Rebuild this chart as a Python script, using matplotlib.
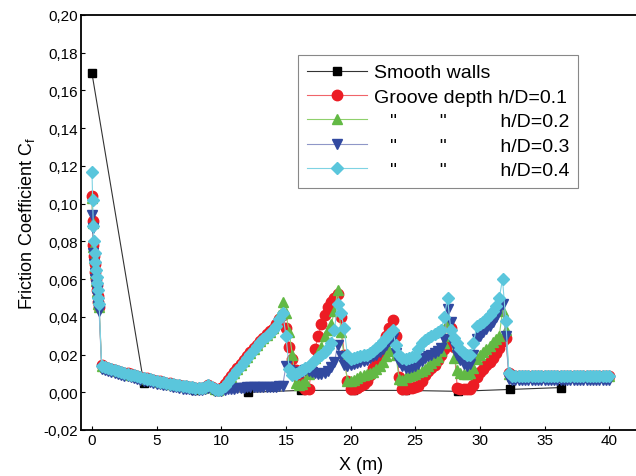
# -*- coding: UTF-8 -*-

"""Friction coefficient along the pipe, smooth walls vs grooved walls
"""

#+++++++++++++++++++++++++++++++++++++++++++++++++++++++++++++++++++++++++++++#

import numpy as np
import matplotlib.pyplot as plt

#+++++++++++++++++++++++++++++++++++++++++++++++++++++++++++++++++++++++++++++#

# smooth walls (coarse mesh)
X_SMOOTH = [ 0.0, 4.0, 8.0, 12.1, 16.2, 20.2, 24.2, 28.3, 32.3, 36.3 ]
CF_SMOOTH = [ 0.169, 0.005, 0.001, 0.0, 0.001, 0.001, 0.001, 0.0005, 0.0015, 0.0025 ]

# grooved walls: refined cells at the inlet, then 0.25 m spacing
X_INLET = [ 0.0, 0.05, 0.1, 0.15, 0.2, 0.25, 0.3, 0.35, 0.4, 0.45, 0.5, 0.55 ]
X_MAIN = np.arange( 0.75, 40.01, 0.25 )

CF_01 = [ 0.104, 0.091, 0.078, 0.072, 0.068, 0.064, 0.060, 0.057, 0.054, 0.051, 0.048, 0.045,
          0.0142,
          0.0134, 0.0128, 0.0123, 0.0118, 0.0113, 0.0108, 0.0104, 0.0100,   # 1
          0.0095, 0.0091, 0.0086, 0.0082, 0.0078, 0.0074, 0.0070, 0.0066,   # 3
          0.0062, 0.0058, 0.0054, 0.0051, 0.0047, 0.0044, 0.0041, 0.0038,   # 5
          0.0035, 0.0032, 0.0029, 0.0027, 0.0025, 0.0023, 0.0023, 0.0029,   # 7
          0.0036, 0.0030, 0.0015, 0.0014, 0.0025, 0.0042, 0.0064, 0.0086,   # 9
          0.0107, 0.0129, 0.0151, 0.0172, 0.0193, 0.0214, 0.0234, 0.0253,   # 11
          0.0272, 0.0290, 0.0307, 0.0323, 0.0338, 0.0360, 0.0390, 0.0410,   # 13
          0.0340, 0.0240, 0.0175, 0.0120, 0.0070, 0.0035, 0.0020, 0.0015,   # 15
          0.0120, 0.0230, 0.0300, 0.0360, 0.0410, 0.0450, 0.0480, 0.0500,   # 17
          0.0520, 0.0400, 0.0200, 0.0060, 0.0015, 0.0015, 0.0025, 0.0035,   # 19
          0.0045, 0.0060, 0.0090, 0.0130, 0.0178, 0.0215, 0.0250, 0.0300,   # 21
          0.0340, 0.0385, 0.0300, 0.0080, 0.0020, 0.0020, 0.0025, 0.0025,   # 23
          0.0030, 0.0035, 0.0060, 0.0090, 0.0114, 0.0130, 0.0146, 0.0170,   # 25
          0.0200, 0.0230, 0.0280, 0.0340, 0.0240, 0.0025, 0.0015, 0.0015,   # 27
          0.0015, 0.0020, 0.0040, 0.0080, 0.0106, 0.0125, 0.0145, 0.0160,   # 29
          0.0180, 0.0210, 0.0235, 0.0270, 0.0290, 0.0100, 0.0090, 0.0088,   # 31
          0.0088, 0.0088, 0.0088, 0.0088, 0.0088, 0.0088, 0.0088, 0.0088,   # 33
          0.0088, 0.0088, 0.0088, 0.0088, 0.0088, 0.0088, 0.0088, 0.0088,   # 35
          0.0088, 0.0088, 0.0088, 0.0088, 0.0088, 0.0088, 0.0088, 0.0088,   # 37
          0.0088, 0.0088, 0.0088, 0.0088, 0.0088 ]                          # 39

CF_02 = [ 0.103, 0.090, 0.077, 0.071, 0.067, 0.063, 0.059, 0.056, 0.053, 0.050, 0.047, 0.045,
          0.0141,
          0.0133, 0.0127, 0.0122, 0.0117, 0.0112, 0.0107, 0.0103, 0.0099,   # 1
          0.0094, 0.0090, 0.0085, 0.0081, 0.0077, 0.0073, 0.0069, 0.0065,   # 3
          0.0061, 0.0057, 0.0053, 0.0050, 0.0046, 0.0043, 0.0040, 0.0037,   # 5
          0.0034, 0.0031, 0.0028, 0.0026, 0.0024, 0.0022, 0.0022, 0.0028,   # 7
          0.0036, 0.0030, 0.0015, 0.0013, 0.0022, 0.0038, 0.0058, 0.0080,   # 9
          0.0100, 0.0122, 0.0145, 0.0167, 0.0188, 0.0209, 0.0230, 0.0250,   # 11
          0.0270, 0.0288, 0.0305, 0.0322, 0.0340, 0.0365, 0.0410, 0.0480,   # 13
          0.0420, 0.0320, 0.0197, 0.0050, 0.0040, 0.0045, 0.0060, 0.0095,   # 15
          0.0138, 0.0180, 0.0210, 0.0240, 0.0300, 0.0330, 0.0360, 0.0430,   # 17
          0.0540, 0.0320, 0.0190, 0.0060, 0.0060, 0.0065, 0.0075, 0.0085,   # 19
          0.0090, 0.0095, 0.0100, 0.0110, 0.0125, 0.0140, 0.0160, 0.0190,   # 21
          0.0220, 0.0290, 0.0200, 0.0070, 0.0065, 0.0080, 0.0085, 0.0090,   # 23
          0.0095, 0.0105, 0.0115, 0.0126, 0.0140, 0.0155, 0.0170, 0.0185,   # 25
          0.0220, 0.0260, 0.0380, 0.0300, 0.0180, 0.0120, 0.0100, 0.0095,   # 27
          0.0095, 0.0100, 0.0130, 0.0175, 0.0197, 0.0215, 0.0230, 0.0245,   # 29
          0.0265, 0.0285, 0.0300, 0.0430, 0.0330, 0.0095, 0.0085, 0.0085,   # 31
          0.0085, 0.0085, 0.0085, 0.0085, 0.0085, 0.0085, 0.0085, 0.0085,   # 33
          0.0085, 0.0085, 0.0085, 0.0085, 0.0085, 0.0085, 0.0085, 0.0085,   # 35
          0.0085, 0.0085, 0.0085, 0.0085, 0.0085, 0.0085, 0.0085, 0.0085,   # 37
          0.0085, 0.0085, 0.0085, 0.0085, 0.0085 ]                          # 39

CF_03 = [ 0.094, 0.087, 0.074, 0.068, 0.063, 0.060, 0.057, 0.054, 0.051, 0.048, 0.046, 0.043,
          0.0125,
          0.0118, 0.0112, 0.0107, 0.0102, 0.0097, 0.0092, 0.0088, 0.0084,   # 1
          0.0079, 0.0075, 0.0070, 0.0066, 0.0062, 0.0058, 0.0054, 0.0050,   # 3
          0.0046, 0.0043, 0.0039, 0.0036, 0.0032, 0.0029, 0.0026, 0.0023,   # 5
          0.0020, 0.0018, 0.0015, 0.0013, 0.0011, 0.0010, 0.0011, 0.0015,   # 7
          0.0022, 0.0018, 0.0006, 0.0005, 0.0008, 0.0012, 0.0015, 0.0018,   # 9
          0.0020, 0.0022, 0.0024, 0.0025, 0.0026, 0.0027, 0.0027, 0.0027,   # 11
          0.0027, 0.0027, 0.0027, 0.0027, 0.0028, 0.0030, 0.0032, 0.0035,   # 13
          0.0140, 0.0120, 0.0110, 0.0100, 0.0105, 0.0110, 0.0120, 0.0115,   # 15
          0.0110, 0.0100, 0.0095, 0.0095, 0.0100, 0.0115, 0.0135, 0.0160,   # 17
          0.0250, 0.0190, 0.0145, 0.0140, 0.0145, 0.0150, 0.0155, 0.0160,   # 19
          0.0165, 0.0170, 0.0180, 0.0190, 0.0200, 0.0215, 0.0230, 0.0250,   # 21
          0.0270, 0.0290, 0.0210, 0.0160, 0.0140, 0.0130, 0.0130, 0.0135,   # 23
          0.0140, 0.0150, 0.0165, 0.0180, 0.0190, 0.0200, 0.0210, 0.0220,   # 25
          0.0235, 0.0280, 0.0440, 0.0370, 0.0250, 0.0200, 0.0170, 0.0150,   # 27
          0.0140, 0.0150, 0.0200, 0.0280, 0.0300, 0.0320, 0.0335, 0.0350,   # 29
          0.0370, 0.0400, 0.0440, 0.0470, 0.0300, 0.0068, 0.0064, 0.0063,   # 31
          0.0063, 0.0063, 0.0063, 0.0063, 0.0063, 0.0063, 0.0063, 0.0063,   # 33
          0.0063, 0.0063, 0.0063, 0.0063, 0.0063, 0.0063, 0.0063, 0.0063,   # 35
          0.0063, 0.0063, 0.0063, 0.0063, 0.0063, 0.0063, 0.0063, 0.0063,   # 37
          0.0063, 0.0063, 0.0063, 0.0063, 0.0063 ]                          # 39

CF_04 = [ 0.117, 0.102, 0.088, 0.080, 0.074, 0.069, 0.065, 0.061, 0.058, 0.054, 0.050, 0.047,
          0.0140,
          0.0133, 0.0127, 0.0122, 0.0117, 0.0112, 0.0107, 0.0103, 0.0099,   # 1
          0.0094, 0.0090, 0.0085, 0.0081, 0.0077, 0.0073, 0.0069, 0.0065,   # 3
          0.0061, 0.0057, 0.0053, 0.0050, 0.0046, 0.0043, 0.0040, 0.0037,   # 5
          0.0034, 0.0031, 0.0028, 0.0026, 0.0024, 0.0022, 0.0022, 0.0028,   # 7
          0.0036, 0.0030, 0.0015, 0.0012, 0.0020, 0.0035, 0.0055, 0.0075,   # 9
          0.0095, 0.0118, 0.0140, 0.0162, 0.0183, 0.0204, 0.0225, 0.0245,   # 11
          0.0264, 0.0282, 0.0299, 0.0315, 0.0330, 0.0350, 0.0390, 0.0420,   # 13
          0.0300, 0.0125, 0.0090, 0.0095, 0.0110, 0.0120, 0.0130, 0.0140,   # 15
          0.0155, 0.0170, 0.0185, 0.0200, 0.0215, 0.0235, 0.0260, 0.0330,   # 17
          0.0470, 0.0420, 0.0340, 0.0200, 0.0175, 0.0180, 0.0185, 0.0190,   # 19
          0.0195, 0.0200, 0.0210, 0.0220, 0.0235, 0.0250, 0.0270, 0.0290,   # 21
          0.0310, 0.0330, 0.0250, 0.0200, 0.0180, 0.0175, 0.0180, 0.0185,   # 23
          0.0190, 0.0230, 0.0260, 0.0275, 0.0290, 0.0300, 0.0310, 0.0320,   # 25
          0.0330, 0.0400, 0.0500, 0.0330, 0.0290, 0.0260, 0.0230, 0.0210,   # 27
          0.0200, 0.0195, 0.0260, 0.0350, 0.0360, 0.0375, 0.0390, 0.0410,   # 29
          0.0430, 0.0460, 0.0500, 0.0600, 0.0380, 0.0100, 0.0086, 0.0086,   # 31
          0.0086, 0.0086, 0.0086, 0.0086, 0.0086, 0.0086, 0.0086, 0.0086,   # 33
          0.0086, 0.0086, 0.0086, 0.0086, 0.0086, 0.0086, 0.0086, 0.0086,   # 35
          0.0086, 0.0086, 0.0086, 0.0086, 0.0086, 0.0086, 0.0086, 0.0086,   # 37
          0.0086, 0.0086, 0.0086, 0.0086, 0.0086 ]                          # 39

LABELS = [ 'Smooth walls',
           'Groove depth h/D=0.1',
           '   "        "          h/D=0.2',
           '   "        "          h/D=0.3',
           '   "        "          h/D=0.4' ]

X_TICKS = [ 0, 5, 10, 15, 20, 25, 30, 35, 40 ]
Y_TICKS = [ -0.02, 0.0, 0.02, 0.04, 0.06, 0.08, 0.10, 0.12, 0.14, 0.16, 0.18, 0.20 ]

#+++++++++++++++++++++++++++++++++++++++++++++++++++++++++++++++++++++++++++++#

plt.rcParams[ 'font.family' ] = [ 'Liberation Sans', 'DejaVu Sans' ]
plt.rcParams[ 'mathtext.default' ] = 'regular'

fig = plt.figure( figsize = ( 6.36, 4.77 ), dpi = 100 )
ax = fig.add_axes( [ 81 / 636, 46 / 477, 560 / 636, 415 / 477 ] )

x_groove = np.concatenate( [ X_INLET, X_MAIN ] )

ax.plot( X_SMOOTH, CF_SMOOTH, color = '#333333', lw = 0.8, marker = 's',
         ms = 5.5, mfc = 'black', mec = 'black', label = LABELS[ 0 ] )
ax.plot( x_groove, CF_01, color = '#f0646a', lw = 0.8, marker = 'o',
         ms = 7.5, mfc = '#ec1c24', mec = '#ec1c24', label = LABELS[ 1 ] )
ax.plot( x_groove, CF_02, color = '#8fd06c', lw = 0.8, marker = '^',
         ms = 7.5, mfc = '#62b944', mec = '#62b944', label = LABELS[ 2 ] )
ax.plot( x_groove, CF_03, color = '#8f97c8', lw = 0.8, marker = 'v',
         ms = 7.5, mfc = '#3149a0', mec = '#3149a0', label = LABELS[ 3 ] )
ax.plot( x_groove, CF_04, color = '#7fd3e3', lw = 0.8, marker = 'D',
         ms = 6.5, mfc = '#5ac6dc', mec = '#5ac6dc', label = LABELS[ 4 ] )

ax.set_xlim( -0.85, 42.46 )
ax.set_ylim( -0.02, 0.20 )
ax.set_xticks( X_TICKS )
ax.set_xticklabels( [ str( t ) for t in X_TICKS ] )
ax.set_yticks( Y_TICKS )
ax.set_yticklabels( [ '{:.2f}'.format( t ).replace( '.', ',' ) for t in Y_TICKS ] )
ax.tick_params( direction = 'in', length = 3, width = 0.8, labelsize = 11, pad = 2 )

for side in [ 'left', 'bottom', 'top', 'right' ]:
    ax.spines[ side ].set_linewidth( 1.3 )

ax.set_xlabel( 'X (m)', fontsize = 13, labelpad = 7 )
ax.set_ylabel( 'Friction Coefficient C$_f$', fontsize = 13, labelpad = 5 )

leg = ax.legend( loc = 'upper left', bbox_to_anchor = ( 0.3875, 0.9036 ),
                 borderaxespad = 0, fontsize = 14, numpoints = 1,
                 handlelength = 3.1, handletextpad = 0.35, labelspacing = 0.35,
                 borderpad = 0.45, fancybox = False, framealpha = 1 )
leg.get_frame( ).set_edgecolor( '#888888' )
leg.get_frame( ).set_linewidth( 0.8 )

fig.savefig( 'out.png', dpi = 100 )

#+++++++++++++++++++++++++++++++++++++++++++++++++++++++++++++++++++++++++++++#
